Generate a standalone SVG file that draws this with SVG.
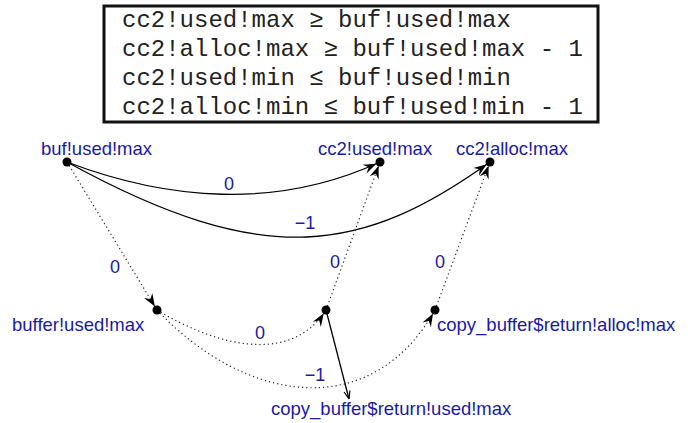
<svg xmlns="http://www.w3.org/2000/svg" width="700" height="423" viewBox="0 0 700 423">
  <style>
    .box { fill: #ffffff; stroke: #111111; stroke-width: 3; }
    .mono { font-family: "Liberation Mono", "DejaVu Sans Mono", monospace; font-size: 24px; fill: #222222; }
    .lbl { font-family: "Liberation Sans", Arial, sans-serif; font-size: 18.5px; fill: #1a1aa6; }
    .elbl { font-family: "Liberation Sans", Arial, sans-serif; font-size: 18px; fill: #1a1aa6; text-anchor: middle; }
    .solid { fill: none; stroke: #000000; stroke-width: 1.3; }
    .dotted { fill: none; stroke: #222222; stroke-width: 1.2; stroke-dasharray: 1.2 3; }
    .dot { fill: #000000; }
  </style>
  <defs>
    <marker id="arrow" viewBox="-15 -7 22 14" markerWidth="22" markerHeight="14" refX="4" refY="0" orient="auto" markerUnits="userSpaceOnUse">
      <path d="M0,0 L-13,-4.8 L-8.5,0 L-13,4.8 Z" fill="#000000"/>
    </marker>
    <marker id="arrowSmall" viewBox="-10 -5 12 10" markerWidth="12" markerHeight="10" refX="0" refY="0" orient="auto" markerUnits="userSpaceOnUse">
      <path d="M0,0 L-8,-3 M0,0 L-8,3" fill="none" stroke="#000000" stroke-width="1.2"/>
    </marker>
  </defs>

  <!-- constraint summary -->
  <g id="constraints">
    <rect class="box" x="104" y="6" width="494" height="116"/>
    <text class="mono" x="122" y="27">cc2!used!max ≥ buf!used!max</text>
    <text class="mono" x="122" y="56">cc2!alloc!max ≥ buf!used!max - 1</text>
    <text class="mono" x="122" y="85">cc2!used!min ≤ buf!used!min</text>
    <text class="mono" x="122" y="114">cc2!alloc!min ≤ buf!used!min - 1</text>
  </g>

  <!-- connectors -->
  <g id="edges">
    <path class="solid" d="M67,162 C167,200 276,210 380,162" marker-end="url(#arrow)"/>
    <path class="solid" d="M67,162 C267,272 364,252 490,162" marker-end="url(#arrow)"/>
    <path class="dotted" d="M67,162 L157,310" marker-end="url(#arrow)"/>
    <path class="dotted" d="M157,310 C215,345 290,366 326,310" marker-end="url(#arrow)"/>
    <path class="dotted" d="M157,310 C247,405 372,422 435,310" marker-end="url(#arrow)"/>
    <path class="dotted" d="M326,310 L380,162" marker-end="url(#arrow)"/>
    <path class="dotted" d="M435,310 L490,162" marker-end="url(#arrow)"/>
    <path class="solid" d="M326,310 L349,399" marker-end="url(#arrowSmall)"/>
    <text class="elbl" x="229" y="190">0</text>
    <text class="elbl" x="305" y="229">−1</text>
    <text class="elbl" x="115" y="273">0</text>
    <text class="elbl" x="335" y="268">0</text>
    <text class="elbl" x="440" y="268">0</text>
    <text class="elbl" x="260" y="339">0</text>
    <text class="elbl" x="315" y="381">−1</text>
  </g>

  <!-- nodes -->
  <g id="buf_used_max">
    <circle class="dot" cx="67" cy="162" r="4.5"/>
    <text class="lbl" x="41" y="155">buf!used!max</text>
  </g>
  <g id="cc2_used_max">
    <circle class="dot" cx="380" cy="162" r="4.5"/>
    <text class="lbl" x="318" y="155">cc2!used!max</text>
  </g>
  <g id="cc2_alloc_max">
    <circle class="dot" cx="490" cy="162" r="4.5"/>
    <text class="lbl" x="456" y="155">cc2!alloc!max</text>
  </g>
  <g id="buffer_used_max">
    <circle class="dot" cx="157" cy="310" r="4.5"/>
    <text class="lbl" x="12" y="331">buffer!used!max</text>
  </g>
  <g id="copy_buffer_return_used_max">
    <circle class="dot" cx="326" cy="310" r="4.5"/>
    <text class="lbl" x="271" y="415">copy_buffer$return!used!max</text>
  </g>
  <g id="copy_buffer_return_alloc_max">
    <circle class="dot" cx="435" cy="310" r="4.5"/>
    <text class="lbl" x="437" y="331">copy_buffer$return!alloc!max</text>
  </g>
</svg>
